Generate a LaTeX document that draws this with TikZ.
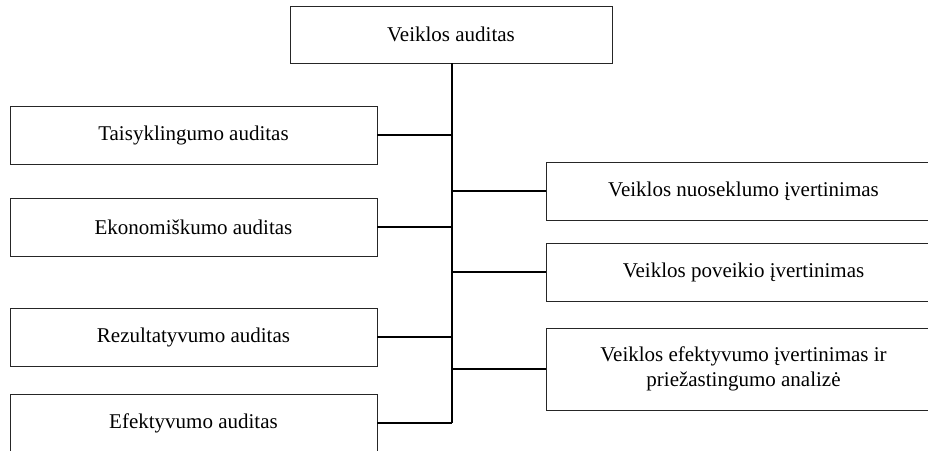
\documentclass[tikz,border=0pt]{standalone}
\usepackage{fontspec}
\setmainfont{Liberation Serif}
\begin{document}
\begin{tikzpicture}[x=1pt,y=-1pt,
  box/.style={draw=black!85, line width=0.8pt, rectangle, inner sep=0pt, align=center,
    font=\fontsize{21}{25}\selectfont},
  conn/.style={line width=1.3pt},
  trunk/.style={line width=2pt}]
\useasboundingbox (0,0) rectangle (928,450);
\clip (0,0) rectangle (928,450);
\node[box, minimum width=322pt, minimum height=57pt] (top) at (451,34.5) {Veiklos auditas};
\node[box, minimum width=367pt, minimum height=58pt] (l1) at (193.5,135) {Taisyklingumo auditas};
\node[box, minimum width=367pt, minimum height=58pt] (l2) at (193.5,227) {Ekonomiškumo auditas};
\node[box, minimum width=367pt, minimum height=58pt] (l3) at (193.5,337) {Rezultatyvumo auditas};
\node[box, minimum width=367pt, minimum height=58pt] (l4) at (193.5,423) {Efektyvumo auditas};
\node[box, minimum width=395pt, minimum height=58pt] (r1) at (743.5,191) {Veiklos nuoseklumo įvertinimas};
\node[box, minimum width=395pt, minimum height=58pt] (r2) at (743.5,272) {Veiklos poveikio įvertinimas};
\node[box, minimum width=395pt, minimum height=82pt] (r3) at (743.5,369) {Veiklos efektyvumo įvertinimas ir\\priežastingumo analizė};
\coordinate (tend) at (452,423);
\draw[trunk] (tend |- top.south) -- (tend);
\foreach \n in {l1,l2,l3,l4}{\draw[conn] (\n.east) -- (\n.east -| tend);}
\foreach \n in {r1,r2,r3}{\draw[conn] (\n.west) -- (\n.west -| tend);}
\end{tikzpicture}
\end{document}
